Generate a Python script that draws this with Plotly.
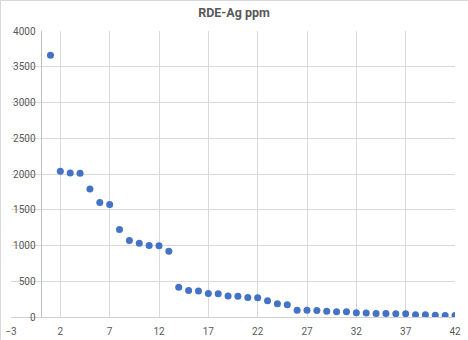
import plotly.graph_objects as go

title_text = "RDE-Ag ppm"
sample_index = list(range(1, 43))
ag_ppm = [3660, 2040, 2015, 2012, 1790, 1600, 1575, 1225, 1070, 1030,
          1000, 995, 920, 415, 370, 365, 330, 325, 295, 290,
          272, 270, 226, 184, 170, 95, 95, 91, 81, 73,
          73, 59, 55, 49, 49, 45, 45, 31, 31, 25,
          21, 21]
x_range = [-3, 42]
y_range = [0, 4000]

W, H = 468, 340
ml, mr, mt, mb = 11, 13, 31, 23

fig = go.Figure()
fig.add_trace(go.Scatter(
    x=sample_index, y=ag_ppm, mode="markers",
    marker=dict(size=7, color="#4472C4", line=dict(width=0)),
    hoverinfo="x+y", showlegend=False,
))

tick_font = dict(family="Roboto, Liberation Sans, sans-serif", size=10, color="#595959")

fig.update_layout(
    width=W, height=H,
    margin=dict(l=ml, r=mr, t=mt, b=mb, pad=0, autoexpand=False),
    paper_bgcolor="white", plot_bgcolor="white",
    title=dict(text="<b>" + title_text + "</b>", x=0.5, xanchor="center",
               y=1 - 13 / H, yanchor="middle",
               font=dict(family="Roboto, Liberation Sans, sans-serif", size=12.5, color="#595959")),
    xaxis=dict(range=x_range, tick0=-3, dtick=5, showgrid=True, gridcolor="#D9D9D9",
               gridwidth=1, zeroline=False, showline=False, ticks="",
               tickfont=tick_font, ticklabelstandoff=7, domain=[0, 1], automargin=False),
    yaxis=dict(range=y_range, dtick=500, showgrid=True, gridcolor="#D9D9D9",
               gridwidth=1, zeroline=True, zerolinecolor="#D0D0D0", zerolinewidth=1,
               showline=True, linecolor="#BFBFBF", linewidth=1,
               anchor="free", position=3 / 45, ticks="", automargin=False,
               tickfont=tick_font, ticklabelstandoff=3),
    shapes=[
        dict(type="line", xref="paper", yref="paper",
             x0=-ml / (W - ml - mr), x1=1 + mr / (W - ml - mr),
             y0=1 + (mt - 0.5) / (H - mt - mb), y1=1 + (mt - 0.5) / (H - mt - mb),
             line=dict(color="#D9D9D9", width=1)),
        dict(type="line", xref="paper", yref="paper",
             x0=-(ml - 0.5) / (W - ml - mr), x1=-(ml - 0.5) / (W - ml - mr),
             y0=-mb / (H - mt - mb), y1=1 + mt / (H - mt - mb),
             line=dict(color="#D9D9D9", width=1)),
    ],
)

fig.write_html("out.html")
